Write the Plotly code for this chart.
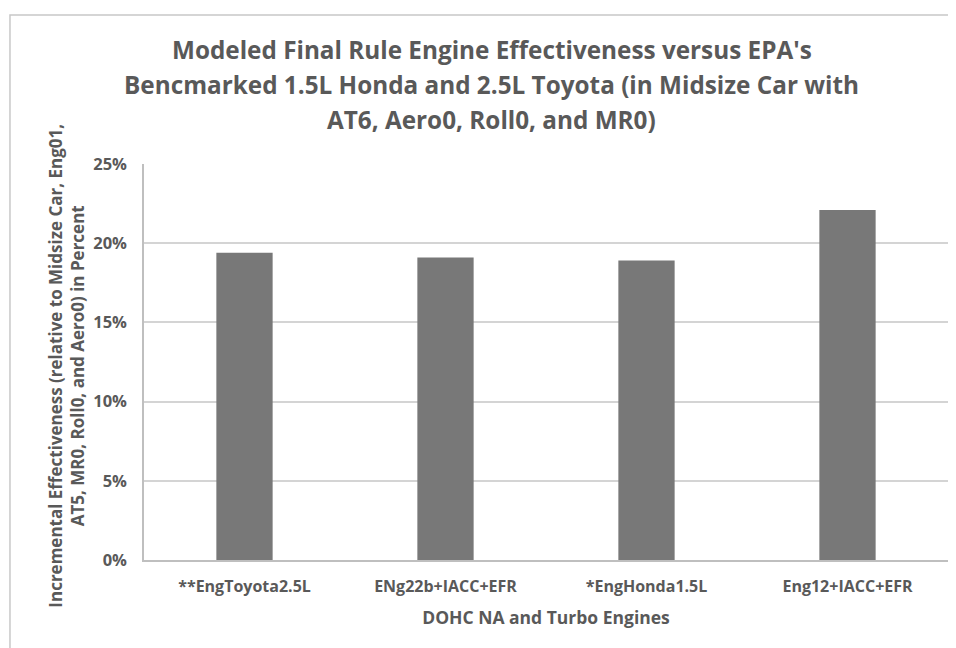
import plotly.graph_objects as go

categories = ["**EngToyota2.5L", "ENg22b+IACC+EFR", "*EngHonda1.5L", "Eng12+IACC+EFR"]
effectiveness = [0.194, 0.191, 0.189, 0.221]
y_ticks = [0, 0.05, 0.10, 0.15, 0.20, 0.25]
y_tick_labels = ["0%", "5%", "10%", "15%", "20%", "25%"]

title_lines = ["Modeled Final Rule Engine Effectiveness versus EPA's",
               "Bencmarked 1.5L Honda and 2.5L Toyota (in Midsize Car with",
               "AT6, Aero0, Roll0, and MR0)"]
y_title = ("Incremental Effectiveness (relative to Midsize Car, Eng01,<br>"
           "AT5, MR0, Roll0, and Aero0) in Percent")
x_title = "DOHC NA and Turbo Engines"

TXT = "#595959"
FONT = "Open Sans"

fig = go.Figure(go.Bar(x=categories, y=effectiveness, marker_color="#787878",
                       marker_line_width=0, width=0.28))

annotations = []
for line, yp in zip(title_lines, [1.2904, 1.2020, 1.1136]):
    annotations.append(dict(text="<b>" + line + "</b>", xref="paper", yref="paper",
                            x=0.4328, y=yp, xanchor="center", yanchor="middle",
                            showarrow=False, font=dict(size=24.3, color=TXT, family=FONT)))
annotations.append(dict(text="<b>" + y_title + "</b>", xref="paper", yref="paper",
                        x=-0.0964, y=0.492, xanchor="center", yanchor="middle",
                        textangle=-90, showarrow=False,
                        font=dict(size=17, color=TXT, family=FONT)))

fig.update_layout(
    width=956, height=648,
    paper_bgcolor="white", plot_bgcolor="white",
    margin=dict(l=136, r=16, t=156, b=96, autoexpand=False),
    showlegend=False,
    font=dict(family=FONT, color=TXT),
    annotations=annotations,
    shapes=[dict(type="rect", xref="paper", yref="paper",
                 x0=-0.1667, x1=1.3, y0=-0.3, y1=1.376,
                 line=dict(color="#c8c8c8", width=1.5), layer="below")],
)
fig.update_xaxes(
    automargin=False,
    showline=True, linecolor="#bfbfbf", linewidth=1.5,
    tickfont=dict(size=16, color=TXT, family=FONT),
    ticks="", ticklabelstandoff=11,
    tickvals=categories, ticktext=["<b>%s</b>" % c for c in categories],
    title=dict(text="<b>" + x_title + "</b>", font=dict(size=17.5, color=TXT, family=FONT), standoff=16),
)
fig.update_yaxes(
    automargin=False,
    range=[0, 0.25], tickvals=y_ticks, ticktext=["<b>%s</b>" % t for t in y_tick_labels],
    showgrid=True, gridcolor="#d4d4d4", gridwidth=1.5,
    showline=True, linecolor="#bfbfbf", linewidth=1.5, zeroline=False,
    tickfont=dict(size=16.5, color=TXT, family=FONT), ticks="", ticklabelstandoff=12,
)

fig.write_html("out.html")
